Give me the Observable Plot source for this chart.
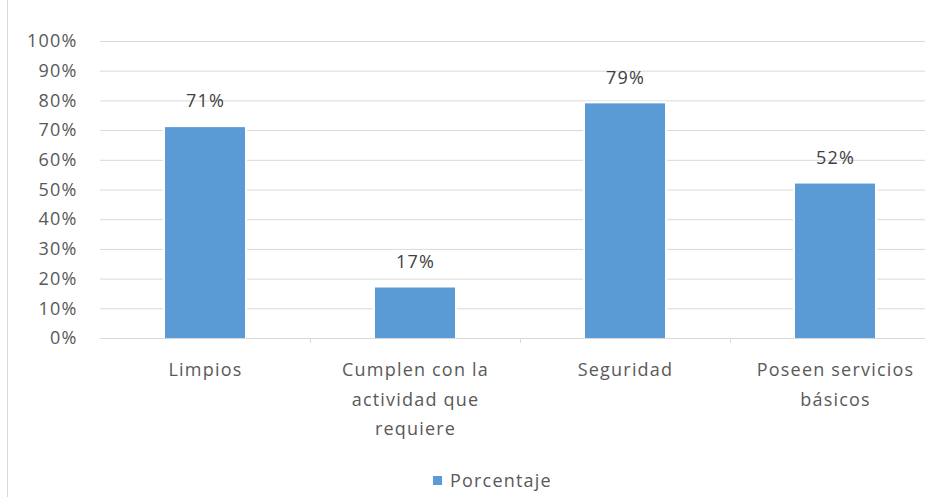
<!DOCTYPE html>
<html><head><meta charset="utf-8">
<script src="https://cdn.jsdelivr.net/npm/d3@7"></script>
<script src="https://cdn.jsdelivr.net/npm/@observablehq/plot@0.6"></script>
<style>
body{margin:0;background:#fff;}
#wrap{position:relative;width:925px;height:497px;overflow:hidden;font-family:"Open Sans",sans-serif;background:#fff;}
#border{position:absolute;left:7px;top:0;width:1px;height:497px;background:#d9d9d9;z-index:2;}
#chart{position:absolute;left:0;top:0;}
#legend{position:absolute;left:433px;top:466px;height:28px;display:flex;align-items:center;font-size:18px;color:#595959;letter-spacing:1.2px;}
.sw{width:9px;height:9px;background:#5b9bd5;margin-right:8px;}
</style></head>
<body>
<div id="wrap"><div id="chart"></div><div id="border"></div>
<div id="legend"><div class="sw"></div><span id="legtext"></span></div></div>
<script>
const categories = ["Limpios", "Cumplen con la\nactividad que\nrequiere", "Seguridad", "Poseen servicios\nbásicos"];
const values = [0.71, 0.17, 0.79, 0.52];
const valueLabels = ["71%", "17%", "79%", "52%"];
const yTicks = [0, 0.1, 0.2, 0.3, 0.4, 0.5, 0.6, 0.7, 0.8, 0.9, 1.0];
const seriesName = "Porcentaje";

const data = categories.map((c, i) => ({cat: c, value: values[i], label: valueLabels[i]}));
const W = 925, H = 460;
const plot = Plot.plot({
  width: W, height: H,
  marginLeft: 100, marginRight: 0, marginTop: 41, marginBottom: H - 338,
  style: {fontFamily: "Open Sans", fontSize: "18px", color: "#595959", letterSpacing: "1.2px", background: "transparent"},
  x: {domain: categories, range: [100, 940], paddingInner: 0.62, paddingOuter: 0.31, label: null},
  y: {domain: [0, 1], range: [338, 41], label: null},
  marks: [
    Plot.ruleY(yTicks, {stroke: "#d9d9d9", strokeWidth: 1}),
    Plot.barY(data, {x: "cat", y: "value", fill: "white", insetLeft: -2, insetRight: -2, insetTop: -2}),
    Plot.barY(data, {x: "cat", y: "value", fill: "#5b9bd5"}),
    Plot.ruleX(categories.slice(1), {x: d => d, dx: -105, y1: 0, y2: 0, insetBottom: -5, stroke: "#d9d9d9"}),
    Plot.text(data, {x: "cat", y: "value", text: "label", dy: -26, fill: "#404040", fontSize: 18}),
    Plot.axisY({ticks: yTicks, tickFormat: d3.format(".0%"), tickSize: 0, tickPadding: 23, fontSize: 18, fill: "#595959", label: null}),
    Plot.axisX({tickSize: 0, tickPadding: 16, lineHeight: 1.66, fontSize: 18, fill: "#595959", label: null})
  ]
});
document.getElementById("chart").appendChild(plot);
document.getElementById("legtext").textContent = seriesName;
</script>
</body></html>
